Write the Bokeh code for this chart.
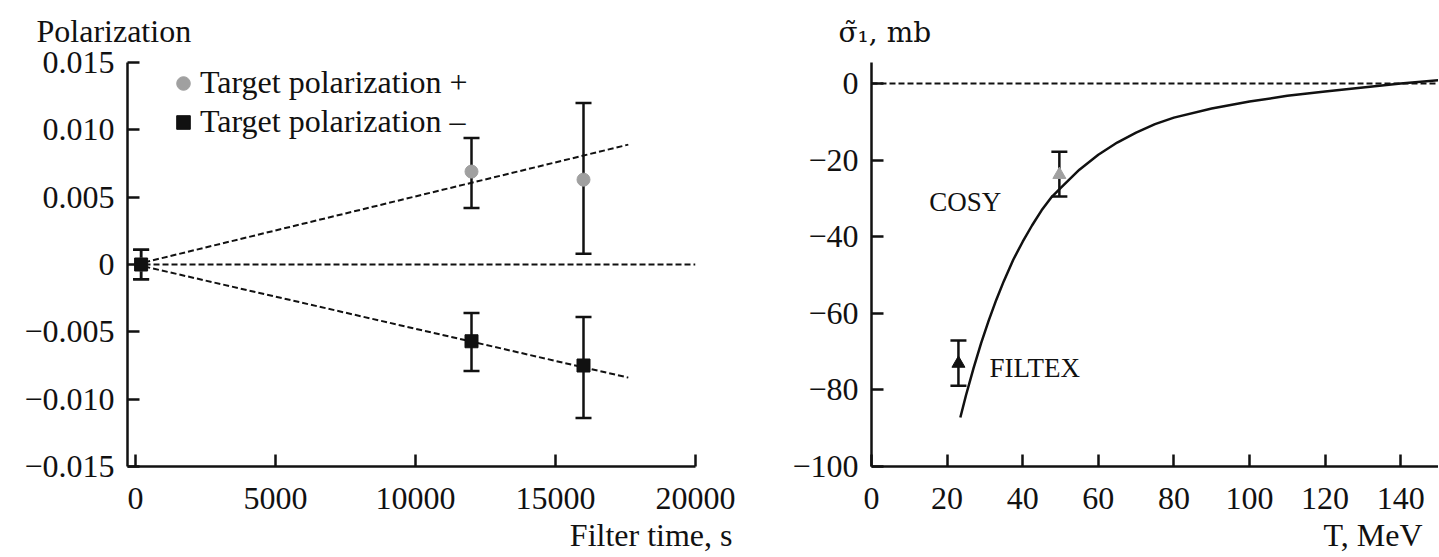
from bokeh.plotting import figure
from bokeh.models import (ColumnDataSource, Whisker, TeeHead, Label, Legend, LegendItem,
                          FixedTicker, Range1d, Title)
from bokeh.layouts import row
from bokeh.embed import file_html
from bokeh.resources import INLINE

# ---------------- Left panel data ----------------
time_plus = [200, 12000, 16000]
pol_plus = [0.0, 0.0069, 0.0063]
pol_plus_low = [-0.0011, 0.0042, 0.0008]
pol_plus_high = [0.0011, 0.0094, 0.0120]

time_minus = [200, 12000, 16000]
pol_minus = [0.0, -0.0057, -0.0075]
pol_minus_low = [-0.0011, -0.0079, -0.0114]
pol_minus_high = [0.0011, -0.0036, -0.0039]

fit_time = [0, 17600]
fit_plus = [0.0, 0.0089]
fit_minus = [0.0, -0.0084]
zero_time = [0, 20000]
zero_pol = [0.0, 0.0]

left_xticks = [0, 5000, 10000, 15000, 20000]
left_xlabels = ["0", "5000", "10000", "15000", "20000"]
left_yticks = [-0.015, -0.010, -0.005, 0, 0.005, 0.010, 0.015]
left_ylabels = ["\u22120.015", "\u22120.010", "\u22120.005", "0", "0.005", "0.010", "0.015"]

# ---------------- Right panel data ----------------
curve_T = [23.5, 25, 27, 29, 31, 33, 35, 37.5, 40, 42.5, 45, 47.5, 50, 55, 60, 65,
           70, 75, 80, 90, 100, 110, 120, 130, 140, 150]
curve_sigma = [-87.2, -81.4, -74.3, -67.8, -61.9, -56.5, -51.6, -46.0, -41.3, -37.0,
               -33.1, -29.8, -27.3, -22.5, -18.6, -15.4, -12.8, -10.6, -8.9, -6.5,
               -4.7, -3.2, -2.1, -1.0, 0.0, 0.9]

cosy_T = [49.7]
cosy_sigma = [-23.8]
cosy_low = [-29.5]
cosy_high = [-17.8]

filtex_T = [23.0]
filtex_sigma = [-73.1]
filtex_low = [-78.9]
filtex_high = [-67.1]

zero_T = [0, 150]
zero_sigma = [0, 0]

right_xticks = [0, 20, 40, 60, 80, 100, 120, 140]
right_xlabels = ["0", "20", "40", "60", "80", "100", "120", "140"]
right_yticks = [-100, -80, -60, -40, -20, 0]
right_ylabels = ["\u2212100", "\u221280", "\u221260", "\u221240", "\u221220", "0"]

FONT = "Liberation Serif"
INK = "#111111"
GRAY = "#a0a0a0"
H = 557


def style_axes(p, xt, xl, yt, yl):
    for ax in (p.xaxis[0], p.yaxis[0]):
        ax.axis_line_width = 2.5
        ax.axis_line_color = INK
        ax.major_tick_line_width = 2.5
        ax.major_tick_line_color = INK
        ax.major_tick_in = 12
        ax.major_tick_out = 0
        ax.minor_tick_line_color = None
        ax.major_label_text_font = FONT
        ax.major_label_text_font_size = "32px"
        ax.major_label_text_color = INK
    p.xaxis[0].ticker = FixedTicker(ticks=xt)
    p.xaxis[0].major_label_overrides = dict(zip(xt, xl))
    p.xaxis[0].major_label_standoff = 21
    p.yaxis[0].ticker = FixedTicker(ticks=yt)
    p.yaxis[0].major_label_overrides = dict(zip(yt, yl))
    p.yaxis[0].major_label_standoff = 13
    p.xgrid.grid_line_color = None
    p.ygrid.grid_line_color = None
    p.outline_line_color = None


def add_whisker(p, src, base, low, high):
    w = Whisker(source=src, base=base, lower=low, upper=high, dimension="height",
                line_color=INK, line_width=2.5,
                upper_head=TeeHead(size=16, line_width=2.5, line_color=INK),
                lower_head=TeeHead(size=16, line_width=2.5, line_color=INK))
    p.add_layout(w)


def side_title(p, text, side, align, offset, valign, standoff, font=FONT, size="32px"):
    p.add_layout(Title(text=text, align=align, offset=offset, vertical_align=valign,
                       standoff=standoff, text_font=font, text_font_size=size,
                       text_font_style="normal", text_color=INK), side)


# ---------------- Left figure ----------------
p1 = figure(output_backend="svg", toolbar_location=None,
            frame_width=568, frame_height=404,
            min_border_left=127, min_border_right=45, min_border_top=62,
            min_border_bottom=H - 62 - 404,
            x_range=Range1d(-286, 20000), y_range=Range1d(-0.015, 0.015),
            background_fill_color="white", border_fill_color="white")
style_axes(p1, left_xticks, left_xlabels, left_yticks, left_ylabels)

p1.line(zero_time, zero_pol, line_color=INK, line_width=2, line_dash="6 3")
p1.line(fit_time, fit_plus, line_color=INK, line_width=2, line_dash="6 3")
p1.line(fit_time, fit_minus, line_color=INK, line_width=2, line_dash="6 3")

src_plus = ColumnDataSource(dict(t=time_plus, v=pol_plus, lo=pol_plus_low, hi=pol_plus_high))
src_minus = ColumnDataSource(dict(t=time_minus, v=pol_minus, lo=pol_minus_low, hi=pol_minus_high))
add_whisker(p1, src_plus, "t", "lo", "hi")
add_whisker(p1, src_minus, "t", "lo", "hi")
r_plus = p1.scatter("t", "v", source=src_plus, marker="circle", size=13,
                    fill_color=GRAY, line_color=GRAY)
r_minus = p1.scatter("t", "v", source=src_minus, marker="square", size=13,
                     fill_color=INK, line_color=INK)

legend = Legend(items=[LegendItem(label="Target polarization +", renderers=[r_plus]),
                       LegendItem(label="Target polarization \u2013", renderers=[r_minus])],
                location=(39, 326), orientation="vertical",
                glyph_width=34, glyph_height=34, label_height=36, label_standoff=0,
                spacing=2, padding=0, margin=0,
                border_line_color=None, background_fill_alpha=0,
                label_text_font=FONT, label_text_font_size="32px", label_text_color=INK)
p1.add_layout(legend)

side_title(p1, "Polarization", "above", "left", 36 - 127, "top", 24)
side_title(p1, "Filter time, s", "below", "right", -(732 - 695), "bottom", 6)

# ---------------- Right figure ----------------
p2 = figure(output_backend="svg", toolbar_location=None,
            frame_width=567, frame_height=404,
            min_border_left=131, min_border_right=0, min_border_top=62,
            min_border_bottom=H - 62 - 404,
            x_range=Range1d(0, 150), y_range=Range1d(-100, 5.5),
            background_fill_color="white", border_fill_color="white")
style_axes(p2, right_xticks, right_xlabels, right_yticks, right_ylabels)

p2.line(zero_T, zero_sigma, line_color=INK, line_width=2, line_dash="6 3")
p2.line(curve_T, curve_sigma, line_color=INK, line_width=2.5)

src_cosy = ColumnDataSource(dict(t=cosy_T, v=cosy_sigma, lo=cosy_low, hi=cosy_high))
src_filtex = ColumnDataSource(dict(t=filtex_T, v=filtex_sigma, lo=filtex_low, hi=filtex_high))
add_whisker(p2, src_cosy, "t", "lo", "hi")
add_whisker(p2, src_filtex, "t", "lo", "hi")
p2.scatter("t", "v", source=src_cosy, marker="triangle", size=13,
           fill_color=GRAY, line_color=GRAY)
p2.scatter("t", "v", source=src_filtex, marker="triangle", size=13,
           fill_color=INK, line_color=INK)

p2.add_layout(Label(x=15.3, y=-31.0, text="COSY", text_font=FONT, text_font_size="27px",
                    text_color=INK, text_baseline="middle", text_align="left"))
p2.add_layout(Label(x=31.2, y=-74.2, text="FILTEX", text_font=FONT, text_font_size="27px",
                    text_color=INK, text_baseline="middle", text_align="left"))

side_title(p2, "\u03c3\u0303\u2081, mb", "above", "left", 838 - 871, "top", 24,
           font="DejaVu Serif", size="28px")
side_title(p2, "T, MeV", "below", "right", 1438 - 1422, "bottom", 6)

layout = row(p1, p2)
open("out.html", "w").write(file_html(layout, INLINE))
